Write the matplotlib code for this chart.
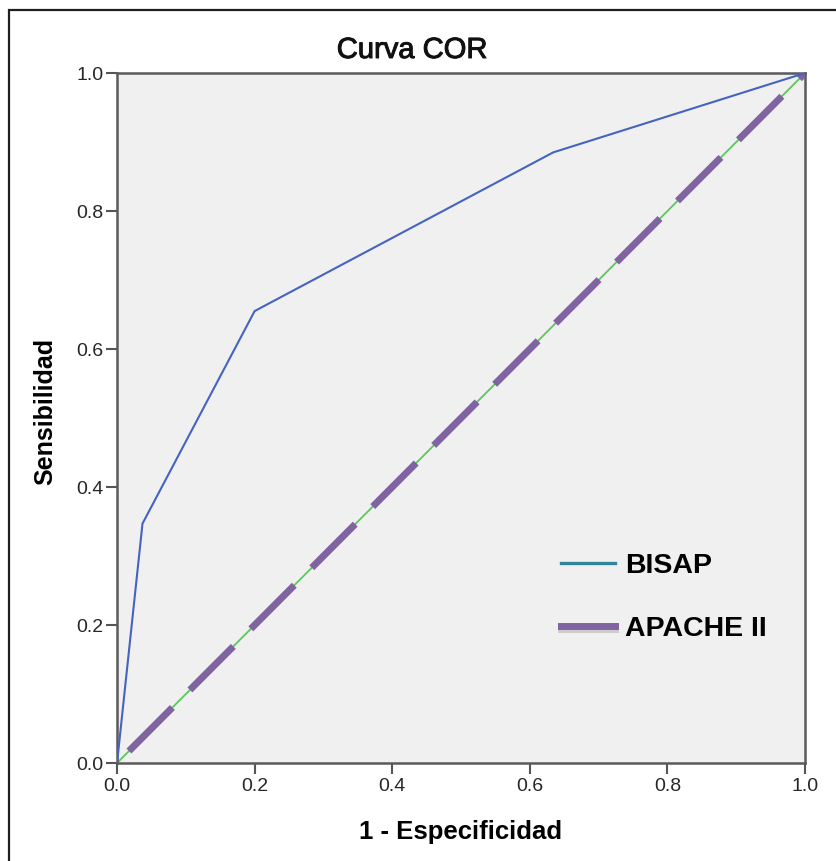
import matplotlib
matplotlib.use('Agg')
import matplotlib.pyplot as plt
from matplotlib.lines import Line2D
from matplotlib.patches import Rectangle
import matplotlib.patheffects as pe

# puntos de la curva COR
bisap_fpr = [0.0, 0.037, 0.200, 0.634, 1.0]
bisap_tpr = [0.0, 0.347, 0.655, 0.885, 1.0]
apache_fpr = [0.0, 1.0]
apache_tpr = [0.0, 1.0]
ref_x = [0.0, 1.0]
ref_y = [0.0, 1.0]
ticks = [0.0, 0.2, 0.4, 0.6, 0.8, 1.0]
tick_labels = ['0.0', '0.2', '0.4', '0.6', '0.8', '1.0']
series_names = ['BISAP', 'APACHE II']

plt.rcParams['font.family'] = ['Liberation Sans', 'DejaVu Sans']

fig = plt.figure(figsize=(8.36, 8.61), dpi=100)
ax = fig.add_axes([0.14, 0.1138, 0.823, 0.8014])
ax.set_facecolor('#f0f0f0')

# marco negro alrededor de la figura
fig.patches.append(Rectangle((9 / 836, -0.05), 1.0, 1.05 - 10 / 861, transform=fig.transFigure,
                             fill=False, edgecolor='#202020', linewidth=1.6))

ax.plot(ref_x, ref_y, color='#5cc85c', linewidth=1.3, zorder=2)
ax.plot(apache_fpr, apache_tpr, color='#8064a2', linewidth=5.0,
        linestyle=(10.0, (8.86, 3.57)), solid_capstyle='butt', zorder=3)
ax.plot(bisap_fpr, bisap_tpr, color='#4563c0', linewidth=1.5, zorder=4)

ax.set_xlim(0, 1)
ax.set_ylim(0, 1)
ax.set_xticks(ticks)
ax.set_xticklabels(tick_labels)
ax.set_yticks(ticks)
ax.set_yticklabels(tick_labels)
ax.tick_params(axis='both', length=8, width=1.5, color='#555555', labelsize=14,
               labelcolor='#262626')
ax.tick_params(axis='x', pad=3)
ax.tick_params(axis='y', pad=1.5)
for s in ax.spines.values():
    s.set_color('#5a5a5a')
    s.set_linewidth(1.8)

fig.text(412 / 836, 1 - 50 / 861, 'Curva COR', ha='center', va='center', fontsize=21, color='#111111',
         path_effects=[pe.withStroke(linewidth=0.7, foreground='#111111')])
ax.set_xlabel('1 - Especificidad', fontsize=18.5, fontweight='bold', labelpad=18)
ax.set_ylabel('Sensibilidad', fontsize=18, fontweight='bold', labelpad=14, y=0.51)

handles = [
    Line2D([], [], color='#31849b', linewidth=2.4),
    Line2D([], [], color='#8064a2', linewidth=5.0,
           path_effects=[pe.SimpleLineShadow(offset=(0, -1.5), alpha=0.15), pe.Normal()]),
]
ax.legend(handles, series_names, loc='upper left', bbox_to_anchor=(0.645, 0.305),
          frameon=False, prop={'size': 20.5, 'weight': 'bold'}, handlelength=1.9,
          handletextpad=0.35, labelspacing=1.33, borderpad=0, borderaxespad=0)

fig.savefig('out.png', dpi=100)
